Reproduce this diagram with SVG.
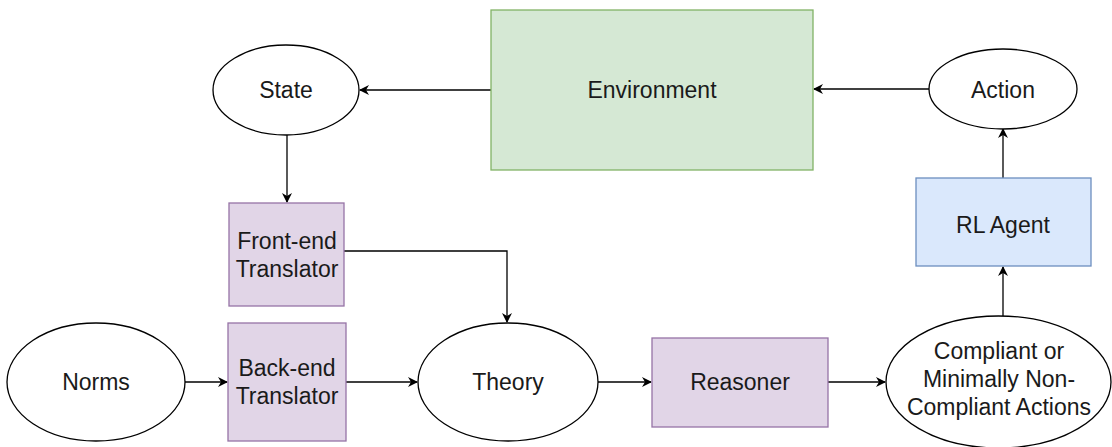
<svg xmlns="http://www.w3.org/2000/svg" width="1112" height="447" viewBox="0 0 1112 447">
<defs>
<style>
.n{fill:#ffffff;stroke:#000000;stroke-width:1.3}
.p{fill:#e1d5e7;stroke:#9673a6;stroke-width:1.3}
.g{fill:#d5e8d4;stroke:#82b366;stroke-width:1.3}
.b{fill:#dae8fc;stroke:#6c8ebf;stroke-width:1.3}
.t{font-family:"Liberation Sans",Arial,sans-serif;font-size:23px;fill:#1a1a1a;text-anchor:middle;dominant-baseline:central}
.c{fill:none;stroke:#000000;stroke-width:1.3;marker-end:url(#ah)}
</style>
<marker id="ah" viewBox="0 0 10 10" refX="9" refY="5" markerWidth="10" markerHeight="10" markerUnits="userSpaceOnUse" orient="auto">
<path d="M0,0 L10,5 L0,10 L3,5 Z" fill="#000000"/>
</marker>
</defs>
<g id="connectors">
<path class="c" d="M491,90 L360,90"/>
<path class="c" d="M929,89 L814,89"/>
<path class="c" d="M1003,178 L1003,129"/>
<path class="c" d="M287,135 L287,202"/>
<path class="c" d="M344,251 L507,251 L507,322"/>
<path class="c" d="M184,382 L227,382"/>
<path class="c" d="M346,382 L417,382"/>
<path class="c" d="M598,382 L651,382"/>
<path class="c" d="M828,382 L885,382"/>
<path class="c" d="M1003,316 L1003,267"/>
</g>
<g id="environment"><rect class="g" x="491" y="10" width="322" height="160"/><text class="t" x="652" y="90">Environment</text></g>
<g id="state"><ellipse class="n" cx="286" cy="90" rx="73" ry="45"/><text class="t" x="286" y="90">State</text></g>
<g id="action"><ellipse class="n" cx="1003" cy="89" rx="74" ry="40"/><text class="t" x="1003" y="90">Action</text></g>
<g id="rl-agent"><rect class="b" x="916" y="178" width="175" height="88"/><text class="t" x="1003" y="225">RL Agent</text></g>
<g id="front-end"><rect class="p" x="229" y="203" width="115" height="103"/><text class="t" x="287" y="241">Front-end</text><text class="t" x="287" y="269">Translator</text></g>
<g id="back-end"><rect class="p" x="228" y="323" width="118" height="118"/><text class="t" x="287" y="368">Back-end</text><text class="t" x="287" y="396">Translator</text></g>
<g id="norms"><ellipse class="n" cx="96" cy="382" rx="89" ry="59"/><text class="t" x="96" y="382">Norms</text></g>
<g id="theory"><ellipse class="n" cx="508" cy="382" rx="90" ry="59"/><text class="t" x="508" y="382">Theory</text></g>
<g id="reasoner"><rect class="p" x="652" y="338" width="176" height="89"/><text class="t" x="740" y="382">Reasoner</text></g>
<g id="compliant"><ellipse class="n" cx="998.5" cy="382" rx="112.5" ry="66"/><text class="t" x="999" y="351">Compliant or</text><text class="t" x="999" y="379">Minimally Non-</text><text class="t" x="999" y="407">Compliant Actions</text></g>
</svg>
